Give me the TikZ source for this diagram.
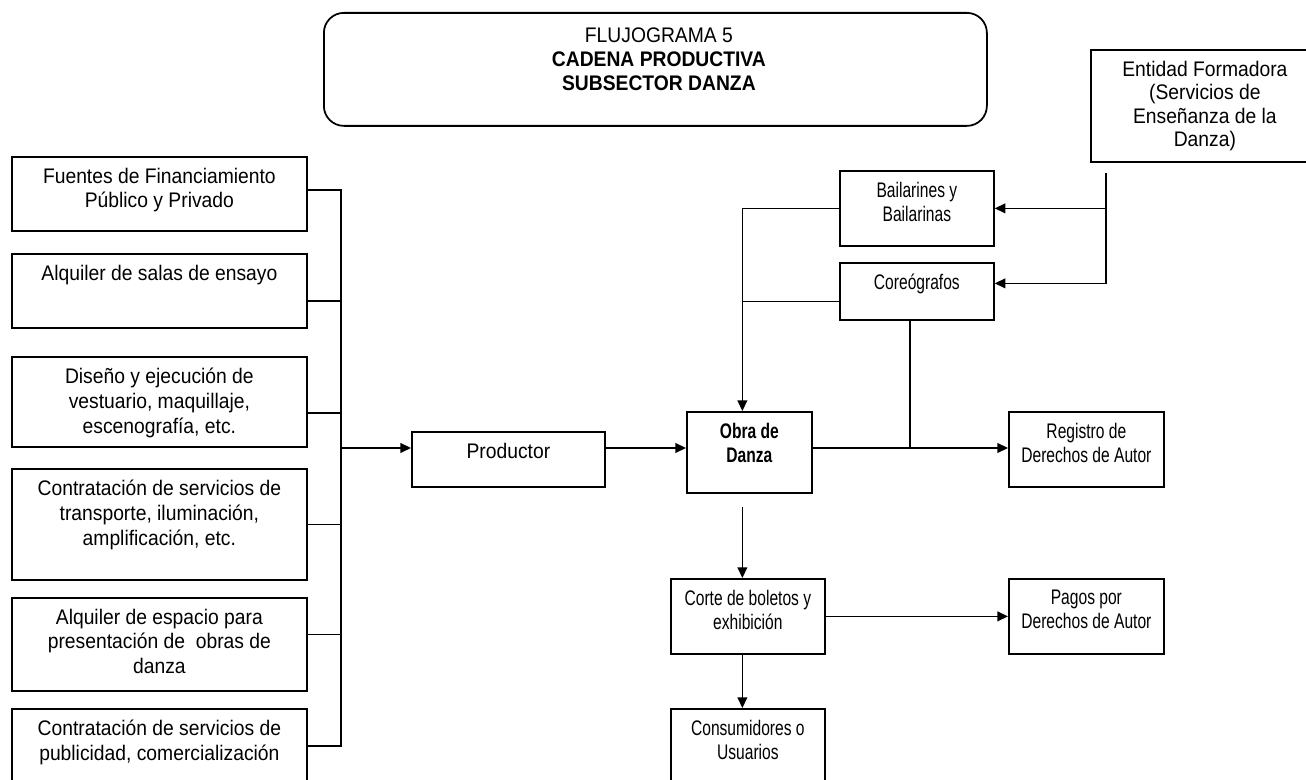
\documentclass[tikz,border=0pt]{standalone}
\usepackage{fontspec}
\setmainfont[FakeStretch=0.915]{Liberation Sans}
\newfontfamily\narrowfont[FakeStretch=0.74]{Liberation Sans}
\usetikzlibrary{arrows.meta,calc}

\begin{document}
\begin{tikzpicture}[x=0.02cm,y=-0.02cm,
  box/.style 2 args={draw,line width=1pt,anchor=north west,inner sep=0pt,minimum width=#1*0.02cm,minimum height=#2*0.02cm},
  wide/.style={anchor=north,align=center,inner sep=0pt,yshift=-6.5pt,font=\fontsize{12}{14.2}\selectfont},
  narrow/.style={wide,font=\narrowfont\fontsize{12}{13.8}\selectfont},
  line/.style={line width=0.9pt},
  arr/.style={line,-{Triangle[length=6pt,width=5.5pt]}}]

\useasboundingbox (0,0) rectangle (1306,780);

\node[box={663}{113},rounded corners=0.4cm,label={[wide,xshift=2pt,yshift=-2pt,font=\fontsize{12}{13.7}\selectfont]north:{FLUJOGRAMA 5\\\textbf{CADENA PRODUCTIVA}\\\textbf{SUBSECTOR DANZA}}}] (title) at (323,12) {};
\node[box={228}{112},label={[wide,font=\fontsize{12}{13.4}\selectfont]north:{Entidad Formadora\\(Servicios de\\Enseñanza de la\\Danza)}}] (ent) at (1090,49) {};

\node[box={295}{74},label={[wide]north:{Fuentes de Financiamiento\\Público y Privado}}] (fuentes) at (11,156) {};
\node[box={295}{74},label={[wide]north:{Alquiler de salas de ensayo}}] (salas) at (11,253) {};
\node[box={295}{90},label={[wide]north:{Diseño y ejecución de\\vestuario, maquillaje,\\escenografía, etc.}}] (disenno) at (11,356) {};
\node[box={295}{111},label={[wide]north:{Contratación de servicios de\\transporte, iluminación,\\amplificación, etc.}}] (transp) at (11,468) {};
\node[box={295}{93},label={[wide]north:{Alquiler de espacio para\\presentación de~ obras de\\danza}}] (espacio) at (11,597) {};
\node[box={295}{74},label={[wide]north:{Contratación de servicios de\\publicidad, comercialización}}] (publi) at (11,708) {};

\node[box={193}{55},label={[wide]north:{Productor}}] (prod) at (411,431) {};
\node[box={125}{81},label={[narrow]north:{\bfseries Obra de\\\bfseries Danza}}] (obra) at (686,411) {};
\node[box={154}{75},label={[narrow]north:{Bailarines y\\Bailarinas}}] (bail) at (839,170) {};
\node[box={154}{57},label={[narrow]north:{Coreógrafos}}] (coreo) at (839,262) {};
\node[box={155}{75},label={[narrow]north:{Registro de\\Derechos de Autor}}] (reg) at (1008,411) {};
\node[box={154}{75},label={[narrow]north:{Corte de boletos y\\exhibición}}] (corte) at (670,578) {};
\node[box={155}{75},label={[narrow]north:{Pagos por\\Derechos de Autor}}] (pagos) at (1008,578) {};
\node[box={154}{80},label={[narrow]north:{Consumidores o\\Usuarios}}] (cons) at (670,708) {};

% insumos hacia el productor
\coordinate (bus) at (341,448);
\foreach \n/\dy in {fuentes/-4,salas/10,disenno/11,transp/0,espacio/-10,publi/0}
  \draw[line] ($(\n.east)+(0,\dy)$) -| (bus);
\draw[arr] (bus) -- (bus -| prod.west);
\draw[arr] (bus -| prod.east) -- (bus -| obra.west);
\draw[arr] (bus -| obra.east) -- (bus -| reg.west);

% creadores
\coordinate (obrain) at ($(obra.north)+(-7,0)$);
\coordinate (cdrop) at ($(coreo.south)+(-7,0)$);
\coordinate (cw) at ($(coreo.west)+(0,10)$);
\draw[line] (cdrop) -- (cdrop |- bus);
\draw[arr] (bail.west) -| (obrain);
\draw[line] (cw) -- (cw -| obrain);
\coordinate (entdrop) at ($(ent.south west)+(16,10)$);
\draw[arr] (entdrop) |- (bail.east);
\draw[arr] (entdrop) |- ($(coreo.east)+(0,-8)$);

% circulacion
\coordinate (obraout) at ($(obra.south -| obrain)+(0,13)$);
\draw[arr] (obraout) -- (obraout |- corte.north);
\draw[arr] (corte.east) -- (pagos.west);
\draw[arr] (corte.south -| obrain) -- (cons.north -| obrain);

\end{tikzpicture}
\end{document}
